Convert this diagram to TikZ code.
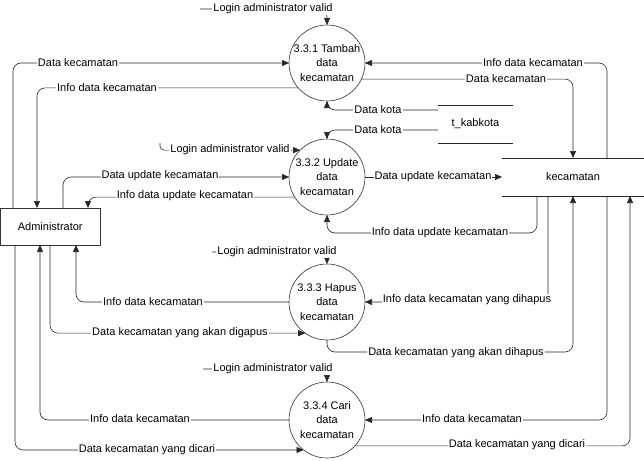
\documentclass[tikz,border=0pt]{standalone}
\usepackage{fontspec}
\setmainfont{Liberation Sans}
\usetikzlibrary{arrows.meta}
\begin{document}
\begin{tikzpicture}[x=1pt,y=-1pt,
  font=\fontsize{11}{14}\selectfont,
  ln/.style={draw=black!85, line width=0.6pt, rounded corners=8pt},
  arr/.style={ln, -{Triangle[length=7pt,width=6pt]}},
  lbl/.style={fill=white, inner xsep=1pt, inner ysep=0.5pt},
  proc/.style={circle, draw=black!80, line width=0.6pt, minimum size=76pt, inner sep=0pt, outer sep=0pt},
  ptxt/.style={align=center, inner sep=0pt, font=\fontsize{11}{14.5}\selectfont},
  ent/.style={draw=black!80, line width=0.6pt, minimum width=99.5pt, minimum height=37pt, inner sep=0pt, outer sep=0pt},
  store/.style={inner sep=0pt, outer sep=0pt}
]
\useasboundingbox (0,0) rectangle (644,460);

% processes
\node[proc] (p1) at (327,63) {};
\node[ptxt] (p1t) at (p1) {3.3.1 Tambah\\data\\kecamatan};
\node[proc] (p2) at (327,177) {};
\node[ptxt] (p2t) at (p2) {3.3.2 Update\\data\\kecamatan};
\node[proc] (p3) at (327,302) {};
\node[ptxt] (p3t) at (p3) {3.3.3 Hapus\\data\\kecamatan};
\node[proc] (p4) at (327,420) {};
\node[ptxt] (p4t) at (p4) {3.3.4 Cari\\data\\kecamatan};

% entity
\node[ent] (adm) at (50.25,226.5) {Administrator};

% data stores
\node[store, minimum width=142pt, minimum height=38pt] (st) at (573,177) {kecamatan};
\draw[ln] (st.north west) -- (st.north east) (st.south west) -- (st.south east);
\node[store, minimum width=75pt, minimum height=38pt] (tk) at (475.5,124) {t\_kabkota};
\draw[ln] (tk.north west) -- (tk.north east) (tk.south west) -- (tk.south east);

% free ends
\coordinate (lg1) at (200,9);
\coordinate (lg2) at (160,143);
\coordinate (lg3) at (212,252);
\coordinate (lg4) at (203,369);

% connectors
\draw[arr] (lg1) -| (p1.north);
\draw[arr] ([xshift=12.5pt]adm.north west) |- (p1.west);
\draw[arr] (p1.221) -| ([xshift=36.5pt]adm.north west);
\draw[arr] ([xshift=105pt]st.north west) |- (p1.east);
\draw[arr] (p1.-25) -| ([xshift=71pt]st.north west);
\draw[arr] ([yshift=14pt]tk.west) -| (p1.south);
\draw[arr] ([yshift=-6pt]tk.west) -| (p2.north);

\draw[arr, rounded corners=4pt] (lg2) |- (p2.135);
\draw[arr] ([xshift=62.5pt]adm.north west) |- (p2.west);
\draw[arr] (p2.212) -| ([xshift=87.5pt]adm.north west);
\draw[arr] (p2.east) -- (st.west);
\draw[arr] ([xshift=35pt]st.south west) -- ++(0,37) -| (p2.south);

\draw[arr] (lg3) -| (p3.north);
\draw[arr] (p3.west) -| ([xshift=75.5pt]adm.south west);
\draw[arr] ([xshift=49.5pt]adm.south west) |- (p3.235);
\draw[arr] ([xshift=46pt]st.south west) |- (p3.east);
\draw[arr] (p3.south) -- ++(0,12) -| ([xshift=71pt]st.south west);

\draw[arr] (lg4) -| (p4.north);
\draw[arr] (p4.west) -| ([xshift=39.5pt]adm.south west);
\draw[arr] ([xshift=14.5pt]adm.south west) |- (p4.232);
\draw[arr] ([xshift=105pt]st.south west) |- (p4.east);
\draw[arr] (p4.-43) -| ([xshift=128pt]st.south west);

% labels
\node[lbl] (t1) at (273,9) {Login administrator valid};
\node[lbl] (t2) at (78,63) {Data kecamatan};
\node[lbl] (t3) at (107,88) {Info data kecamatan};
\node[lbl] (t4) at (533,63) {Info data kecamatan};
\node[lbl] (t5) at (506,79) {Data kecamatan};
\node[lbl] (t6) at (378,110) {Data kota};
\node[lbl] (t7) at (378,130) {Data kota};
\node[lbl] (t8) at (230,150) {Login administrator valid};
\node[lbl] (t9) at (160,176) {Data update kecamatan};
\node[lbl] (t10) at (185,196) {Info data update kecamatan};
\node[lbl] (t11) at (433,177) {Data update kecamatan};
\node[lbl] (t12) at (440,233) {Info data update kecamatan};
\node[lbl] (t13) at (277,252) {Login administrator valid};
\node[lbl] (t14) at (153,302) {Info data kecamatan};
\node[lbl] (t15) at (180,333) {Data kecamatan yang akan digapus};
\node[lbl] (t16) at (467,300) {Info data kecamatan yang dihapus};
\node[lbl] (t17) at (456,353) {Data kecamatan yang akan dihapus};
\node[lbl] (t18) at (273,369) {Login administrator valid};
\node[lbl] (t19) at (140,419) {Info data kecamatan};
\node[lbl] (t20) at (147,450) {Data kecamatan yang dicari};
\node[lbl] (t21) at (472,419) {Info data kecamatan};
\node[lbl] (t22) at (517,445) {Data kecamatan yang dicari};
\end{tikzpicture}
\end{document}
